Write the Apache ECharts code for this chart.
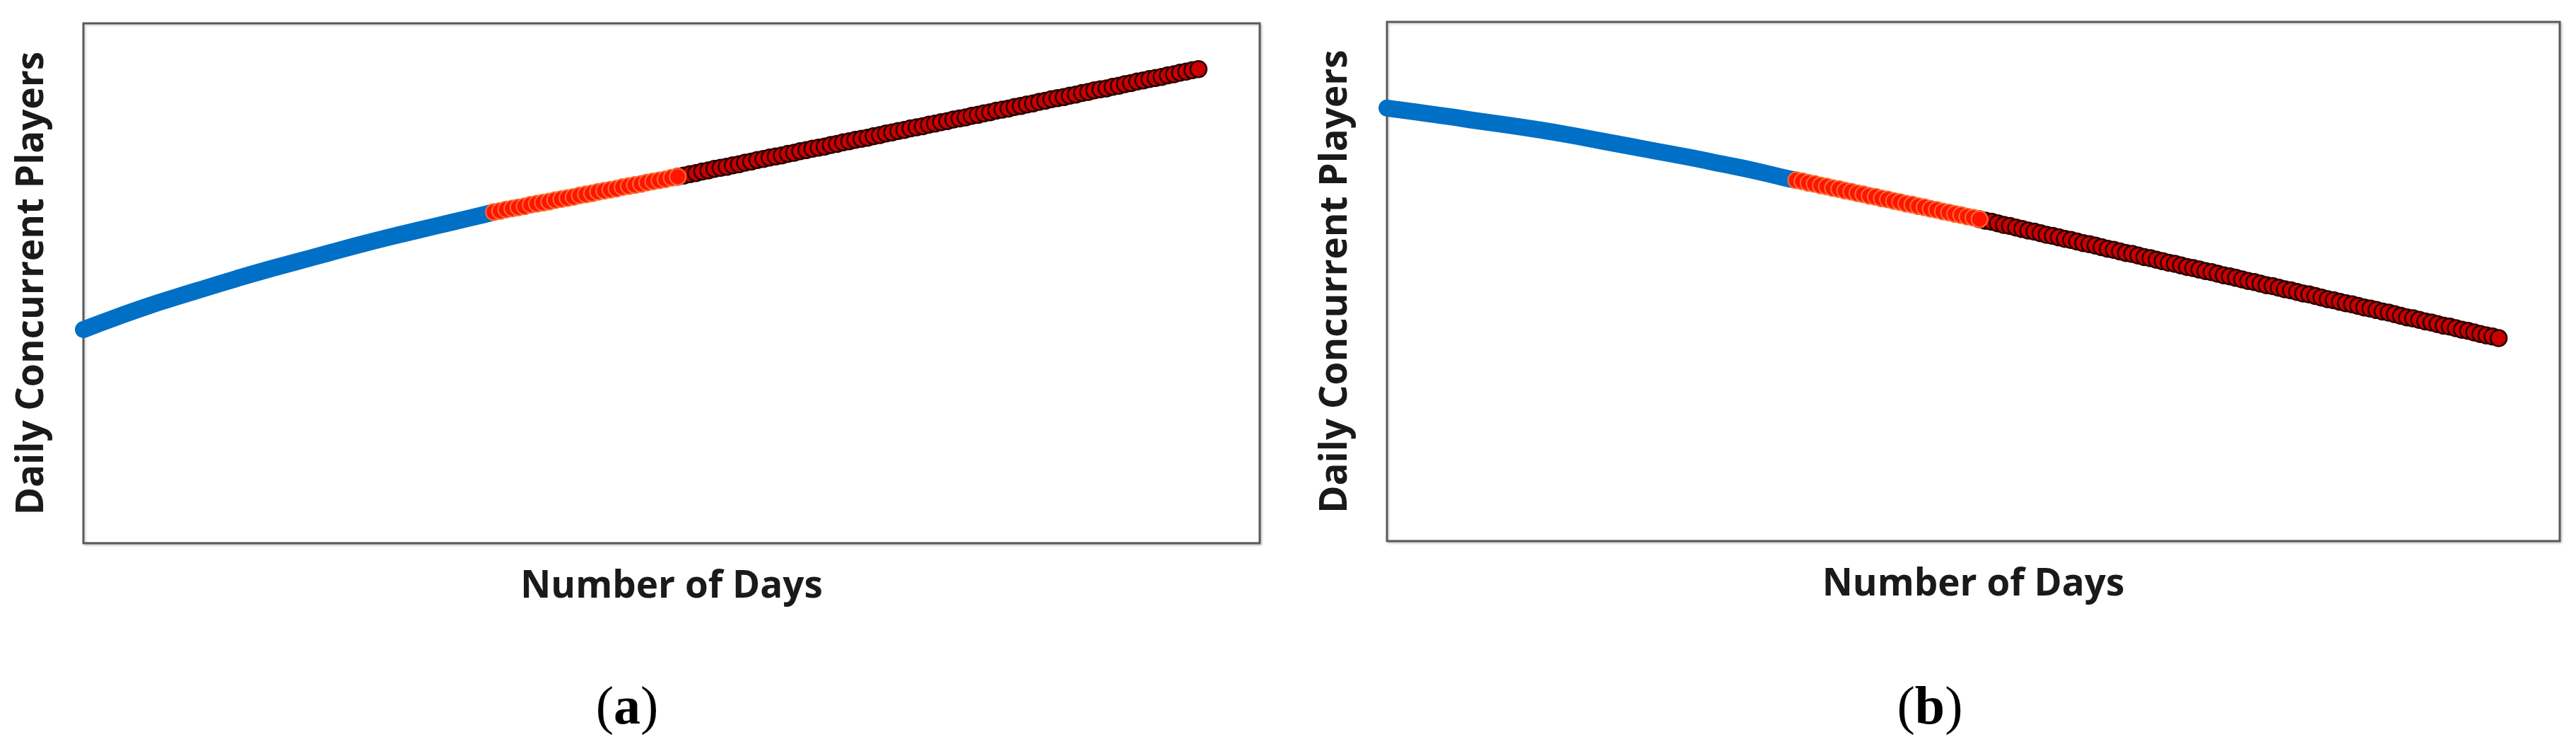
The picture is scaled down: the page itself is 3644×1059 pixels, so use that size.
<!DOCTYPE html>
<html>
<head>
<meta charset="utf-8">
<style>
  html, body { margin: 0; padding: 0; background: #ffffff; }
  #chart { width: 3644px; height: 1059px; }
</style>
<script src="https://cdn.jsdelivr.net/npm/echarts@6/dist/echarts.min.js"></script>
</head>
<body>
<div id="chart"></div>
<script>
// ---------------- data (arbitrary units 0-100) ----------------
var xAxisTitle = 'Number of Days';
var yAxisTitle = 'Daily Concurrent Players';
var panelLetters = ['a', 'b'];

// Panel (a): growth
var blueDaysA  = [0, 5, 10, 15, 20, 25, 30, 35, 40, 45, 50, 55, 60, 65, 67];
var blueValsA  = [41.1, 43.3, 45.4, 47.3, 49.1, 50.9, 52.6, 54.2, 55.8, 57.4, 58.9, 60.3, 61.7, 63.1, 63.7];
var orangeStartA = 67;
var orangeValsA = [63.7, 63.9, 64.2, 64.4, 64.6, 64.8, 65.1, 65.3, 65.5, 65.7, 66.0, 66.2, 66.4, 66.6, 66.9,
  67.1, 67.3, 67.6, 67.8, 68.0, 68.2, 68.5, 68.7, 68.9, 69.1, 69.4, 69.6, 69.8, 70.0, 70.3, 70.5];
var darkStartA = 97;
var darkValsA = [70.5, 70.7, 71.0, 71.2, 71.5, 71.7, 72.0, 72.2, 72.4, 72.7, 72.9, 73.2, 73.4, 73.7, 73.9,
  74.2, 74.4, 74.6, 74.9, 75.1, 75.4, 75.6, 75.9, 76.1, 76.3, 76.6, 76.8, 77.1, 77.3, 77.6,
  77.8, 78.0, 78.3, 78.5, 78.8, 79.0, 79.3, 79.5, 79.8, 80.0, 80.2, 80.5, 80.7, 81.0, 81.2,
  81.5, 81.7, 81.9, 82.2, 82.4, 82.7, 82.9, 83.2, 83.4, 83.6, 83.9, 84.1, 84.4, 84.6, 84.9,
  85.1, 85.4, 85.6, 85.8, 86.1, 86.3, 86.6, 86.8, 87.1, 87.3, 87.5, 87.8, 88.0, 88.3, 88.5,
  88.8, 89.0, 89.3, 89.5, 89.7, 90.0, 90.2, 90.5, 90.7, 91.0, 91.2];

// Panel (b): decline
var blueDaysB  = [0, 5, 10, 15, 20, 25, 30, 35, 40, 45, 50, 55, 60, 65, 67];
var blueValsB  = [83.4, 82.6, 81.8, 80.9, 80.1, 79.2, 78.2, 77.1, 76.0, 74.9, 73.8, 72.6, 71.4, 70.0, 69.5];
var orangeStartB = 67;
var orangeValsB = [69.5, 69.3, 69.0, 68.8, 68.5, 68.3, 68.0, 67.8, 67.5, 67.3, 67.0, 66.8, 66.5, 66.3, 66.0,
  65.8, 65.5, 65.3, 65.0, 64.8, 64.5, 64.3, 64.0, 63.8, 63.5, 63.3, 63.0, 62.8, 62.5, 62.3, 62.0];
var darkStartB = 97;
var darkValsB = [62.0, 61.7, 61.5, 61.2, 60.9, 60.7, 60.4, 60.1, 59.8, 59.6, 59.3, 59.0, 58.8, 58.5, 58.2,
  58.0, 57.7, 57.4, 57.2, 56.9, 56.6, 56.3, 56.1, 55.8, 55.5, 55.3, 55.0, 54.7, 54.5, 54.2,
  53.9, 53.6, 53.4, 53.1, 52.8, 52.6, 52.3, 52.0, 51.8, 51.5, 51.2, 51.0, 50.7, 50.4, 50.1,
  49.9, 49.6, 49.3, 49.1, 48.8, 48.5, 48.3, 48.0, 47.7, 47.5, 47.2, 46.9, 46.6, 46.4, 46.1,
  45.8, 45.6, 45.3, 45.0, 44.8, 44.5, 44.2, 44.0, 43.7, 43.4, 43.1, 42.9, 42.6, 42.3, 42.1,
  41.8, 41.5, 41.3, 41.0, 40.7, 40.5, 40.2, 39.9, 39.6, 39.4, 39.1];

// ---------------- build ----------------
function pairs(days, vals) { return vals.map(function (v, i) { return [days[i], v]; }); }
function seq(start, vals) { return vals.map(function (v, i) { return [start + i, v]; }); }

var FONT = '"Open Sans", "DejaVu Sans", sans-serif';
var grids = [
  { left: 118, top: 33, width: 1664, height: 735 },
  { left: 1962, top: 31, width: 1659, height: 734 }
];
grids.forEach(function (g) {
  g.show = true;
  g.borderColor = '#595959';
  g.borderWidth = 3;
  g.backgroundColor = '#ffffff';
  g.shadowColor = 'rgba(0,0,0,0.16)';
  g.shadowBlur = 3;
  g.shadowOffsetX = 2;
  g.shadowOffsetY = 2;
  g.containLabel = false;
});

function xAxis(i) {
  return {
    type: 'value', gridIndex: i, min: 0, max: 192,
    name: xAxisTitle, nameLocation: 'middle', nameGap: 35,
    nameTextStyle: { fontFamily: FONT, fontWeight: 'bold', fontSize: 53, color: '#1a1a1a' },
    axisLine: { show: false }, axisTick: { show: false }, axisLabel: { show: false }, splitLine: { show: false }
  };
}
function yAxis(i) {
  return {
    type: 'value', gridIndex: i, min: 0, max: 100,
    name: yAxisTitle, nameLocation: 'middle', nameGap: 46,
    nameTextStyle: { fontFamily: FONT, fontWeight: 'bold', fontSize: 53, color: '#1a1a1a' },
    axisLine: { show: false }, axisTick: { show: false }, axisLabel: { show: false }, splitLine: { show: false }
  };
}

function blueSeries(i, data) {
  return {
    type: 'line', xAxisIndex: i, yAxisIndex: i, data: data, smooth: true,
    showSymbol: false, symbol: 'none', z: 2, silent: true,
    lineStyle: { color: '#0070c6', width: 24, cap: 'round' }
  };
}
function darkSeries(i, data) {
  return {
    type: 'scatter', xAxisIndex: i, yAxisIndex: i, data: data, symbolSize: 23, z: 3, silent: true,
    itemStyle: { color: '#c80000', borderColor: '#2a0000', borderWidth: 2.5, opacity: 1 }
  };
}
function orangeSeries(i, data) {
  return {
    type: 'scatter', xAxisIndex: i, yAxisIndex: i, data: data, symbolSize: 23, z: 4, silent: true,
    itemStyle: { color: '#ff1400', borderColor: '#ff6a30', borderWidth: 2, opacity: 1 }
  };
}

var chart = echarts.init(document.getElementById('chart'), null, { renderer: 'canvas' });
chart.setOption({
  animation: false,
  backgroundColor: '#ffffff',
  grid: grids,
  xAxis: [xAxis(0), xAxis(1)],
  yAxis: [yAxis(0), yAxis(1)],
  series: [
    blueSeries(0, pairs(blueDaysA, blueValsA)),
    darkSeries(0, seq(darkStartA, darkValsA)),
    orangeSeries(0, seq(orangeStartA, orangeValsA)),
    blueSeries(1, pairs(blueDaysB, blueValsB)),
    darkSeries(1, seq(darkStartB, darkValsB)),
    orangeSeries(1, seq(orangeStartB, orangeValsB))
  ],
  graphic: [0, 1].map(function (i) {
    return {
      type: 'text',
      x: i === 0 ? 887 : 2730,
      y: 1003,
      style: {
        text: '{p|(}{b|' + panelLetters[i] + '}{p|)}',
        align: 'center', verticalAlign: 'middle',
        rich: {
          p: { fontFamily: '"Liberation Serif", "Times New Roman", serif', fontSize: 76, fill: '#000' },
          b: { fontFamily: '"Liberation Serif", "Times New Roman", serif', fontSize: 76, fontWeight: 'bold', fill: '#000' }
        }
      }
    };
  })
});
</script>
</body>
</html>
